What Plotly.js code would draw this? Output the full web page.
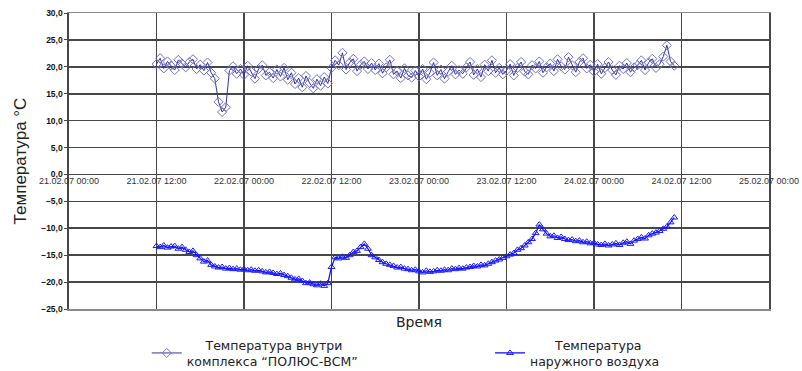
<!DOCTYPE html>
<html>
<head>
<meta charset="utf-8">
<script src="https://cdn.plot.ly/plotly-3.0.1.min.js"></script>
<style>html,body{margin:0;padding:0;background:#fff;}#chart{width:802px;height:371px;}</style>
</head>
<body>
<div id="chart"></div>
<script>
// Readings every 30 minutes, 21.02.07 12:00 ... 24.02.07 11:00
const startTime = "2007-02-21T12:00:00Z";
const stepMinutes = 30;

const insideTemp = [
  20.5, 21.6, 19.7, 21.0, 20.2, 19.4, 21.3, 20.6, 19.9, 20.9, 21.4, 19.6,
  20.4, 19.3, 20.8, 18.9, 17.8, 13.5, 11.6, 12.5, 19.3, 20.1, 18.7, 19.6,
  18.5, 20.2, 19.1, 17.8, 19.6, 20.3, 18.4, 19.0, 17.9, 19.5, 18.2, 19.8,
  17.6, 18.9, 16.8, 17.9, 16.2, 18.3, 17.0, 16.0, 17.7, 16.5, 18.1, 16.9,
  19.8, 21.2, 20.3, 22.6, 19.5, 20.8, 21.5, 19.2, 20.4, 21.0, 19.6, 20.7,
  19.4, 20.6, 18.8, 19.9, 21.3, 18.6, 19.2, 17.9, 19.7, 18.4, 18.0, 19.3,
  18.2, 19.6, 17.7, 18.9, 20.8, 18.4, 19.5, 17.8, 19.1, 20.2, 18.6, 19.4,
  18.7, 19.9, 20.9, 18.5, 19.6, 18.1, 20.4, 19.2, 21.2, 18.9, 19.8, 18.6,
  19.3, 20.5, 18.4, 19.8, 20.9, 19.1, 18.6, 20.3, 19.7, 21.0, 18.9, 19.9,
  20.6, 19.2, 21.4, 20.1, 19.5, 21.8, 20.3, 19.0, 20.9, 21.6, 19.7, 20.4,
  19.1, 20.5, 18.7, 19.8, 20.9, 19.4, 18.5, 20.2, 19.6, 20.7, 19.0, 19.9,
  20.3, 21.2, 19.4, 20.8, 21.5, 19.8, 20.5, 21.9, 24.0, 21.0, 20.2
];

const outsideTemp = [
  -13.3, -13.5, -13.2, -13.6, -13.4, -13.3, -13.8, -13.5, -14.0, -14.4, -14.2, -15.0,
  -15.6, -16.2, -16.0, -16.8, -17.1, -17.3, -17.2, -17.5, -17.4, -17.6, -17.5, -17.7,
  -17.6, -17.8, -17.7, -17.9, -17.8, -18.0, -18.2, -18.1, -18.3, -18.5, -18.4, -18.7,
  -18.9, -19.2, -19.5, -19.4, -19.8, -20.2, -20.1, -20.4, -20.6, -20.3, -20.7, -20.2,
  -17.2, -15.4, -15.6, -15.3, -15.5, -15.0, -14.4, -14.2, -13.5, -12.9, -13.8, -15.0,
  -15.4, -15.9, -16.3, -16.6, -16.8, -17.0, -17.3, -17.2, -17.5, -17.6, -17.8, -17.7,
  -18.0, -18.2, -17.9, -18.1, -18.0, -17.8, -17.9, -17.7, -17.8, -17.5, -17.6, -17.4,
  -17.5, -17.3, -17.2, -17.0, -17.1, -16.8, -16.9, -16.6, -16.3, -16.0, -15.8, -15.5,
  -15.2, -14.9, -14.6, -14.0, -13.7, -13.2, -12.6, -12.0, -10.9, -9.3, -10.2, -11.0,
  -11.5, -11.4, -11.8, -11.6, -12.0, -12.2, -12.1, -12.4, -12.3, -12.6, -12.5, -12.8,
  -12.7, -13.0, -13.1, -12.9, -13.2, -13.0, -12.8, -13.1, -12.7, -12.5, -12.9, -12.3,
  -12.0, -11.7, -11.9, -11.3, -11.0, -10.8, -10.5, -10.1, -9.7, -8.9, -8.0
];

const seriesNames = [
  "\u2003\u2002Температура внутри<br>комплекса “ПОЛЮС-ВСМ”",
  "\u2003\u2003Температура<br>наружного воздуха"
];
const xRange = ["2007-02-21 00:00", "2007-02-25 00:00"];
const yRange = [-25, 30];

const t0 = Date.parse(startTime);
const times = insideTemp.map((_, i) => {
  const d = new Date(t0 + i * stepMinutes * 60000);
  return d.toISOString().slice(0, 16).replace("T", " ");
});

const gridColor = "#474747";
const legendFont = {family: "DejaVu Sans, sans-serif", size: 12.5, color: "#222"};

const traces = [
  {
    x: times, y: insideTemp, name: seriesNames[0], legend: "legend",
    type: "scatter", mode: "lines+markers",
    xaxis: "x", yaxis: "y",
    line: {color: "#34349e", width: 1},
    marker: {symbol: "diamond-open", size: 7, color: "#7070c8", line: {width: 1}}
  },
  {
    x: times, y: outsideTemp, name: seriesNames[1], legend: "legend2",
    type: "scatter", mode: "lines+markers",
    xaxis: "x2", yaxis: "y",
    line: {color: "#0a0aff", width: 1.2},
    marker: {symbol: "triangle-up-open", size: 6, color: "#1a1aff", line: {width: 1}}
  }
];

const layout = {
  width: 802, height: 371,
  margin: {l: 69, r: 33, t: 13, b: 62, autoexpand: false},
  paper_bgcolor: "#ffffff", plot_bgcolor: "#ffffff",
  separators: ", ",
  font: {family: "Liberation Sans, Arial, sans-serif", color: "#222"},
  showlegend: true,
  legend: {
    orientation: "h", xref: "container", yref: "container",
    x: 0.183, xanchor: "left", y: 0.11, yanchor: "top",
    font: legendFont, bgcolor: "rgba(0,0,0,0)"
  },
  legend2: {
    orientation: "h", xref: "container", yref: "container",
    x: 0.611, xanchor: "left", y: 0.11, yanchor: "top",
    font: legendFont, bgcolor: "rgba(0,0,0,0)"
  },
  xaxis: {
    type: "date", range: xRange, anchor: "y", automargin: true,
    tick0: "2007-02-21 00:00", dtick: 43200000,
    showticklabels: false, ticks: "",
    showgrid: true, gridcolor: gridColor, gridwidth: 1.6,
    showline: true, linecolor: "#8a8a8a", linewidth: 1.5, mirror: true,
    zeroline: false,
    title: {text: "Время", font: {family: "DejaVu Sans, sans-serif", size: 14, color: "#222"}, standoff: 10}
  },
  xaxis2: {
    type: "date", range: xRange, overlaying: "x", anchor: "free",
    position: (0 - yRange[0]) / (yRange[1] - yRange[0]), side: "bottom",
    tick0: "2007-02-21 00:00", dtick: 43200000,
    tickformat: "%d.%m.%y %H:%M", ticks: "",
    tickfont: {family: "Liberation Sans, Arial, sans-serif", size: 9, color: "#333"},
    showgrid: false, showline: false, zeroline: false
  },
  yaxis: {
    range: yRange, dtick: 5, tick0: 0, tickformat: ".1f",
    ticks: "outside", ticklen: 3, tickcolor: gridColor,
    tickfont: {family: "Liberation Sans, Arial, sans-serif", size: 8.5, color: "#111", weight: "bold"},
    showgrid: true, gridcolor: gridColor, gridwidth: 1.6,
    showline: true, linecolor: gridColor, linewidth: 1.6, mirror: true,
    zeroline: false,
    title: {text: "Температура °C", font: {family: "Liberation Sans, Arial, sans-serif", size: 17, color: "#222"}, standoff: 10}
  }
};

Plotly.newPlot("chart", traces, layout, {displayModeBar: false, staticPlot: true});
</script>
</body>
</html>
